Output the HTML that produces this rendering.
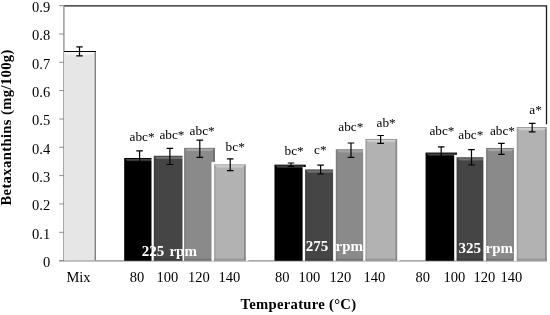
<!DOCTYPE html>
<html><head><meta charset="utf-8"><title>Betaxanthins</title>
<style>
html,body{margin:0;padding:0;background:#fff;}
body{width:550px;height:315px;overflow:hidden;}
svg{display:block;}
text{font-family:"Liberation Serif","Times New Roman",serif;}
.t{font-size:14.5px;fill:#000;}
.b{font-weight:bold;}
</style></head><body>
<svg width="550" height="315" viewBox="0 0 550 315">
<defs>
<linearGradient id="tb" x1="0" y1="0" x2="0" y2="1"><stop offset="0" stop-color="#fff" stop-opacity="0.45"/><stop offset="0.55" stop-color="#fff" stop-opacity="0.32"/><stop offset="1" stop-color="#fff" stop-opacity="0.0"/></linearGradient>
<linearGradient id="bb" x1="0" y1="0" x2="0" y2="1"><stop offset="0" stop-color="#000" stop-opacity="0"/><stop offset="1" stop-color="#000" stop-opacity="0.25"/></linearGradient>
</defs>
<rect width="550" height="315" fill="#fff"/>

<path d="M64 5.9H546.5V124.5" fill="none" stroke="#1a1a1a" stroke-width="1.3"/>
<path d="M63.9 5.5V261" fill="none" stroke="#8a8a8a" stroke-width="1.3"/>
<path d="M59.2 260.6H64" stroke="#8c8c8c" stroke-width="1"/>
<text class="t" x="50.2" y="266.9" text-anchor="end">0</text>
<path d="M59.2 232.3H64" stroke="#8c8c8c" stroke-width="1"/>
<text class="t" x="50.2" y="238.6" text-anchor="end">0.1</text>
<path d="M59.2 203.9H64" stroke="#8c8c8c" stroke-width="1"/>
<text class="t" x="50.2" y="210.2" text-anchor="end">0.2</text>
<path d="M59.2 175.6H64" stroke="#8c8c8c" stroke-width="1"/>
<text class="t" x="50.2" y="181.9" text-anchor="end">0.3</text>
<path d="M59.2 147.3H64" stroke="#8c8c8c" stroke-width="1"/>
<text class="t" x="50.2" y="153.6" text-anchor="end">0.4</text>
<path d="M59.2 119.0H64" stroke="#8c8c8c" stroke-width="1"/>
<text class="t" x="50.2" y="125.3" text-anchor="end">0.5</text>
<path d="M59.2 90.6H64" stroke="#8c8c8c" stroke-width="1"/>
<text class="t" x="50.2" y="96.9" text-anchor="end">0.6</text>
<path d="M59.2 62.3H64" stroke="#8c8c8c" stroke-width="1"/>
<text class="t" x="50.2" y="68.6" text-anchor="end">0.7</text>
<path d="M59.2 34.0H64" stroke="#8c8c8c" stroke-width="1"/>
<text class="t" x="50.2" y="40.3" text-anchor="end">0.8</text>
<path d="M59.2 5.6H64" stroke="#8c8c8c" stroke-width="1"/>
<text class="t" x="50.2" y="11.9" text-anchor="end">0.9</text>
<path d="M59.2 260.8H547" stroke="#8c8c8c" stroke-width="1.2"/>
<rect x="64" y="51.0" width="31.4" height="209.3" fill="#e6e6e6"/>
<path d="M95.3 51.0V260.5" stroke="#7a7a7a" stroke-width="1.3"/>
<path d="M64.5 52.0H95.3L92.5 54.8H66.5Z" fill="#fff" fill-opacity="0.55"/>
<path d="M64 51.5H95.9" stroke="#000" stroke-width="1"/>
<path d="M79.5 46.9V55.9M76.3 46.9H82.7M76.3 55.9H82.7" stroke="#000" stroke-width="1.2" fill="none"/>
<rect x="124.2" y="155.5" width="33.7" height="105.3" fill="#fff"/><rect x="124.2" y="158.0" width="31.2" height="102.8" fill="#000000"/><path d="M125.1 158.9H154.5L151.6 161.8H128.0Z" fill="url(#tb)" style="opacity:0.67"/><path d="M124.2 158.0L125.8 159.6V259.2L124.2 260.8Z" fill="#000" fill-opacity="0.09"/><path d="M155.4 158.0L153.6 159.8V259.0L155.4 260.8Z" fill="#000" fill-opacity="0.22"/><rect x="124.2" y="257.8" width="31.2" height="3" fill="url(#bb)"/><path d="M124.2 158.4H155.4" stroke="#000" stroke-opacity="0.15" stroke-width="0.9"/>
<path d="M139.6 150.9V165.0M136.3 150.9H142.9M136.3 165.0H142.9" stroke="#000" stroke-width="1.2" fill="none"/>
<rect x="151.5" y="153.3" width="36.8" height="107.5" fill="#fff"/><rect x="153.8" y="155.8" width="32.0" height="105.0" fill="#454545"/><path d="M154.7 156.7H184.9L182.0 159.6H157.6Z" fill="url(#tb)" style="opacity:0.67"/><path d="M153.8 155.8L155.4 157.4V259.2L153.8 260.8Z" fill="#000" fill-opacity="0.09"/><path d="M185.8 155.8L184.0 157.6V259.0L185.8 260.8Z" fill="#000" fill-opacity="0.22"/><rect x="153.8" y="257.8" width="32.0" height="3" fill="url(#bb)"/><path d="M153.8 156.2H185.8" stroke="#000" stroke-opacity="0.15" stroke-width="0.9"/>
<path d="M169.9 148.4V164.5M166.6 148.4H173.2M166.6 164.5H173.2" stroke="#000" stroke-width="1.2" fill="none"/>
<rect x="182.5" y="145.4" width="34.9" height="115.4" fill="#fff"/><rect x="184.1" y="147.9" width="30.8" height="112.9" fill="#8a8a8a"/><path d="M185.0 148.8H214.0L211.1 151.7H187.9Z" fill="url(#tb)" style="opacity:0.71"/><path d="M184.1 147.9L185.7 149.5V259.2L184.1 260.8Z" fill="#000" fill-opacity="0.09"/><path d="M214.9 147.9L213.1 149.7V259.0L214.9 260.8Z" fill="#000" fill-opacity="0.22"/><rect x="184.1" y="257.8" width="30.8" height="3" fill="url(#bb)"/><path d="M184.1 148.3H214.9" stroke="#000" stroke-opacity="0.15" stroke-width="0.9"/>
<path d="M199.8 140.1V157.3M196.5 140.1H203.1M196.5 157.3H203.1" stroke="#000" stroke-width="1.2" fill="none"/>
<rect x="211.5" y="161.9" width="36.8" height="98.9" fill="#fff"/><rect x="214.1" y="164.4" width="31.7" height="96.4" fill="#b2b2b2"/><path d="M215.0 165.3H244.9L242.0 168.2H217.9Z" fill="url(#tb)" style="opacity:1.11"/><path d="M214.1 164.4L215.7 166.0V259.2L214.1 260.8Z" fill="#000" fill-opacity="0.09"/><path d="M245.8 164.4L244.0 166.2V259.0L245.8 260.8Z" fill="#000" fill-opacity="0.22"/><rect x="214.1" y="257.8" width="31.7" height="3" fill="url(#bb)"/><path d="M214.1 164.8H245.8" stroke="#000" stroke-opacity="0.15" stroke-width="0.9"/>
<path d="M230.2 158.8V170.7M226.9 158.8H233.5M226.9 170.7H233.5" stroke="#000" stroke-width="1.2" fill="none"/>
<rect x="274.5" y="162.2" width="33.7" height="98.6" fill="#fff"/><rect x="274.5" y="164.7" width="31.2" height="96.1" fill="#000000"/><path d="M275.4 165.6H304.8L301.9 168.5H278.3Z" fill="url(#tb)" style="opacity:0.67"/><path d="M274.5 164.7L276.1 166.3V259.2L274.5 260.8Z" fill="#000" fill-opacity="0.09"/><path d="M305.7 164.7L303.9 166.5V259.0L305.7 260.8Z" fill="#000" fill-opacity="0.22"/><rect x="274.5" y="257.8" width="31.2" height="3" fill="url(#bb)"/><path d="M274.5 165.1H305.7" stroke="#000" stroke-opacity="0.15" stroke-width="0.9"/>
<path d="M291.0 163.0V166.5M287.7 163.0H294.3M287.7 166.5H294.3" stroke="#000" stroke-width="1.2" fill="none"/>
<rect x="302.6" y="167.0" width="36.7" height="93.8" fill="#fff"/><rect x="305.1" y="169.5" width="31.7" height="91.3" fill="#454545"/><path d="M306.0 170.4H335.9L333.0 173.3H308.9Z" fill="url(#tb)" style="opacity:0.67"/><path d="M305.1 169.5L306.7 171.1V259.2L305.1 260.8Z" fill="#000" fill-opacity="0.09"/><path d="M336.8 169.5L335.0 171.3V259.0L336.8 260.8Z" fill="#000" fill-opacity="0.22"/><rect x="305.1" y="257.8" width="31.7" height="3" fill="url(#bb)"/><path d="M305.1 169.9H336.8" stroke="#000" stroke-opacity="0.15" stroke-width="0.9"/>
<path d="M320.6 165.1V174.0M317.3 165.1H323.9M317.3 174.0H323.9" stroke="#000" stroke-width="1.2" fill="none"/>
<rect x="333.1" y="146.8" width="36.4" height="114.0" fill="#fff"/><rect x="335.8" y="149.3" width="31.2" height="111.5" fill="#8a8a8a"/><path d="M336.7 150.2H366.1L363.2 153.1H339.6Z" fill="url(#tb)" style="opacity:0.71"/><path d="M335.8 149.3L337.4 150.9V259.2L335.8 260.8Z" fill="#000" fill-opacity="0.09"/><path d="M367.0 149.3L365.2 151.1V259.0L367.0 260.8Z" fill="#000" fill-opacity="0.22"/><rect x="335.8" y="257.8" width="31.2" height="3" fill="url(#bb)"/><path d="M335.8 149.8H367.0" stroke="#000" stroke-opacity="0.15" stroke-width="0.9"/>
<path d="M351.0 143.0V157.3M347.7 143.0H354.3M347.7 157.3H354.3" stroke="#000" stroke-width="1.2" fill="none"/>
<rect x="363.2" y="136.5" width="36.5" height="124.3" fill="#fff"/><rect x="365.4" y="139.0" width="31.8" height="121.8" fill="#b2b2b2"/><path d="M366.3 139.9H396.3L393.4 142.8H369.2Z" fill="url(#tb)" style="opacity:1.11"/><path d="M365.4 139.0L367.0 140.6V259.2L365.4 260.8Z" fill="#000" fill-opacity="0.09"/><path d="M397.2 139.0L395.4 140.8V259.0L397.2 260.8Z" fill="#000" fill-opacity="0.22"/><rect x="365.4" y="257.8" width="31.8" height="3" fill="url(#bb)"/><path d="M365.4 139.4H397.2" stroke="#000" stroke-opacity="0.15" stroke-width="0.9"/>
<path d="M380.6 135.5V143.3M377.3 135.5H383.9M377.3 143.3H383.9" stroke="#000" stroke-width="1.2" fill="none"/>
<rect x="425.6" y="150.1" width="33.8" height="110.7" fill="#fff"/><rect x="425.6" y="152.6" width="31.3" height="108.2" fill="#000000"/><path d="M426.5 153.5H456.0L453.1 156.4H429.4Z" fill="url(#tb)" style="opacity:0.67"/><path d="M425.6 152.6L427.2 154.2V259.2L425.6 260.8Z" fill="#000" fill-opacity="0.09"/><path d="M456.9 152.6L455.1 154.4V259.0L456.9 260.8Z" fill="#000" fill-opacity="0.22"/><rect x="425.6" y="257.8" width="31.3" height="3" fill="url(#bb)"/><path d="M425.6 153.0H456.9" stroke="#000" stroke-opacity="0.15" stroke-width="0.9"/>
<path d="M441.2 146.8V158.5M437.9 146.8H444.5M437.9 158.5H444.5" stroke="#000" stroke-width="1.2" fill="none"/>
<rect x="454.2" y="154.8" width="35.8" height="106.0" fill="#fff"/><rect x="456.6" y="157.3" width="30.9" height="103.5" fill="#454545"/><path d="M457.5 158.2H486.6L483.7 161.1H460.4Z" fill="url(#tb)" style="opacity:0.67"/><path d="M456.6 157.3L458.2 158.9V259.2L456.6 260.8Z" fill="#000" fill-opacity="0.09"/><path d="M487.5 157.3L485.7 159.1V259.0L487.5 260.8Z" fill="#000" fill-opacity="0.22"/><rect x="456.6" y="257.8" width="30.9" height="3" fill="url(#bb)"/><path d="M456.6 157.8H487.5" stroke="#000" stroke-opacity="0.15" stroke-width="0.9"/>
<path d="M471.5 149.7V165.0M468.2 149.7H474.8M468.2 165.0H474.8" stroke="#000" stroke-width="1.2" fill="none"/>
<rect x="483.4" y="145.5" width="33.7" height="115.3" fill="#fff"/><rect x="486.1" y="148.0" width="28.5" height="112.8" fill="#8a8a8a"/><path d="M487.0 148.9H513.7L510.8 151.8H489.9Z" fill="url(#tb)" style="opacity:0.71"/><path d="M486.1 148.0L487.7 149.6V259.2L486.1 260.8Z" fill="#000" fill-opacity="0.09"/><path d="M514.6 148.0L512.8 149.8V259.0L514.6 260.8Z" fill="#000" fill-opacity="0.22"/><rect x="486.1" y="257.8" width="28.5" height="3" fill="url(#bb)"/><path d="M486.1 148.4H514.6" stroke="#000" stroke-opacity="0.15" stroke-width="0.9"/>
<path d="M501.4 143.4V154.3M498.1 143.4H504.7M498.1 154.3H504.7" stroke="#000" stroke-width="1.2" fill="none"/>
<rect x="513.8" y="124.6" width="35.5" height="136.2" fill="#fff"/><rect x="516.7" y="127.1" width="30.1" height="133.7" fill="#b2b2b2"/><path d="M517.6 128.0H545.9L543.0 130.9H520.5Z" fill="url(#tb)" style="opacity:1.11"/><path d="M516.7 127.1L518.3 128.7V259.2L516.7 260.8Z" fill="#000" fill-opacity="0.09"/><path d="M546.8 127.1L545.0 128.9V259.0L546.8 260.8Z" fill="#000" fill-opacity="0.22"/><rect x="516.7" y="257.8" width="30.1" height="3" fill="url(#bb)"/><path d="M516.7 127.5H546.8" stroke="#000" stroke-opacity="0.15" stroke-width="0.9"/>
<path d="M532.2 123.4V131.8M528.9 123.4H535.5M528.9 131.8H535.5" stroke="#000" stroke-width="1.2" fill="none"/>
<text class="t" x="129.5" y="140.6" style="font-size:13.3px">abc*</text>
<text class="t" x="159.4" y="139.3" style="font-size:13.3px">abc*</text>
<text class="t" x="189.6" y="134.7" style="font-size:13.3px">abc*</text>
<text class="t" x="225.6" y="150.6" style="font-size:13.3px">bc*</text>
<text class="t" x="284.5" y="155.4" style="font-size:13.3px">bc*</text>
<text class="t" x="314.0" y="153.5" style="font-size:13.3px">c*</text>
<text class="t" x="338.3" y="130.7" style="font-size:13.3px">abc*</text>
<text class="t" x="376.5" y="127.1" style="font-size:13.3px">ab*</text>
<text class="t" x="429.4" y="135.4" style="font-size:13.3px">abc*</text>
<text class="t" x="458.3" y="139.2" style="font-size:13.3px">abc*</text>
<text class="t" x="489.9" y="134.5" style="font-size:13.3px">abc*</text>
<text class="t" x="529.3" y="113.6" style="font-size:13.3px">a*</text>
<text class="t" x="66.4" y="281.5">Mix</text>
<text class="t" x="129.8" y="281.5">80</text>
<text class="t" x="156.6" y="281.5">100</text>
<text class="t" x="188.0" y="281.5">120</text>
<text class="t" x="218.6" y="281.5">140</text>
<text class="t" x="275.1" y="281.5">80</text>
<text class="t" x="298.6" y="281.5">100</text>
<text class="t" x="329.6" y="281.5">120</text>
<text class="t" x="363.5" y="281.5">140</text>
<text class="t" x="415.5" y="281.5">80</text>
<text class="t" x="443.6" y="281.5">100</text>
<text class="t" x="473.6" y="281.5">120</text>
<text class="t" x="500.4" y="281.5">140</text>
<text class="t b" x="141.8" y="255.9" style="fill:#fff;font-size:15px">225 <tspan dx="1.4">rpm</tspan></text>
<text class="t b" x="305.8" y="251.4" style="fill:#fff;font-size:15px">275 <tspan dx="3.5">rpm</tspan></text>
<text class="t b" x="458.5" y="253.2" style="fill:#fff;font-size:15px">325 <tspan dx="0.8">rpm</tspan></text>
<text class="t b" x="240.5" y="309.3" textLength="115.6" lengthAdjust="spacing" style="font-size:14.67px">Temperature (°C)</text>
<text class="t b" transform="translate(11.2 205.6) rotate(-90)" textLength="156" lengthAdjust="spacing" style="font-size:14.67px">Betaxanthins (mg/100g)</text>
</svg></body></html>
